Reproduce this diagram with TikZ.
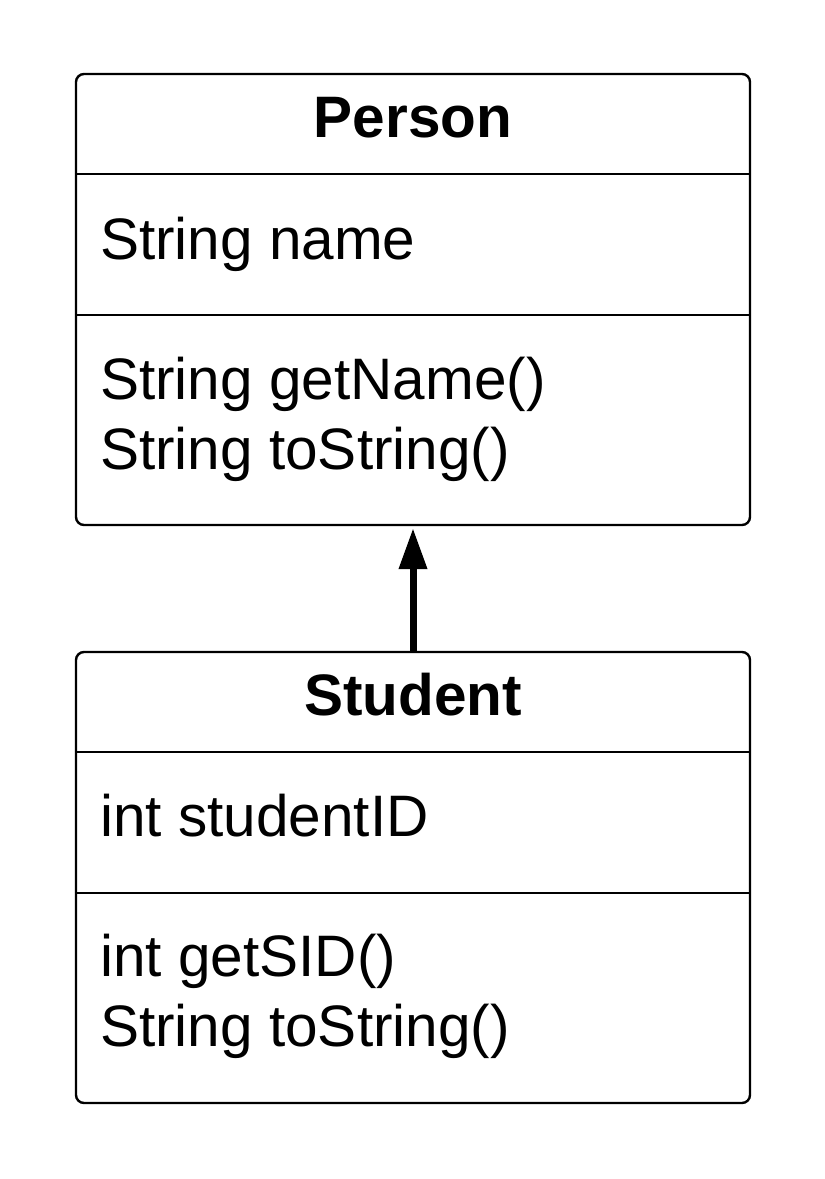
\documentclass[tikz,border=0pt]{standalone}
\usepackage{fontspec}
\setmainfont{Liberation Sans}
\usetikzlibrary{arrows.meta}
\begin{document}
\begin{tikzpicture}[x=1pt,y=-1pt,
  classbox/.style={draw=black,line width=2.4pt,rounded corners=8pt,minimum width=674pt,minimum height=451pt,inner sep=0pt,fill=white},
  divider/.style={line width=2pt},
  txt/.style={anchor=base west,inner sep=0pt,font=\fontsize{58.5}{70}\selectfont},
  ttl/.style={anchor=base,inner sep=0pt,font=\fontsize{58.5}{70}\selectfont\bfseries},
  inherit/.style={line width=7pt,-{Triangle[width=27pt,length=41pt]}}]
\useasboundingbox (0,0) rectangle (825,1179);
% Person
\node[classbox] (P) at (413,299.5) {};
\draw[divider] ([yshift=-101pt]P.north west) -- ([yshift=-101pt]P.north east);
\draw[divider] ([yshift=-242pt]P.north west) -- ([yshift=-242pt]P.north east);
\node[ttl] (pt) at (413,137) {Person};
\node[txt] (pa) at (100,259) {String name};
\node[txt] (pm1) at (100,399) {String getName()};
\node[txt] (pm2) at (100,469) {String toString()};
% Student
\node[classbox] (S) at (413,877.5) {};
\draw[divider] ([yshift=-101pt]S.north west) -- ([yshift=-101pt]S.north east);
\draw[divider] ([yshift=-242pt]S.north west) -- ([yshift=-242pt]S.north east);
\node[ttl] (st) at (413,715) {Student};
\node[txt] (sa) at (100,836) {int studentID};
\node[txt] (sm1) at (100,976) {int getSID()};
\node[txt] (sm2) at (100,1046) {String toString()};
% inheritance
\draw[inherit] (S.north) -- ([yshift=-2pt]P.south);
\end{tikzpicture}
\end{document}
